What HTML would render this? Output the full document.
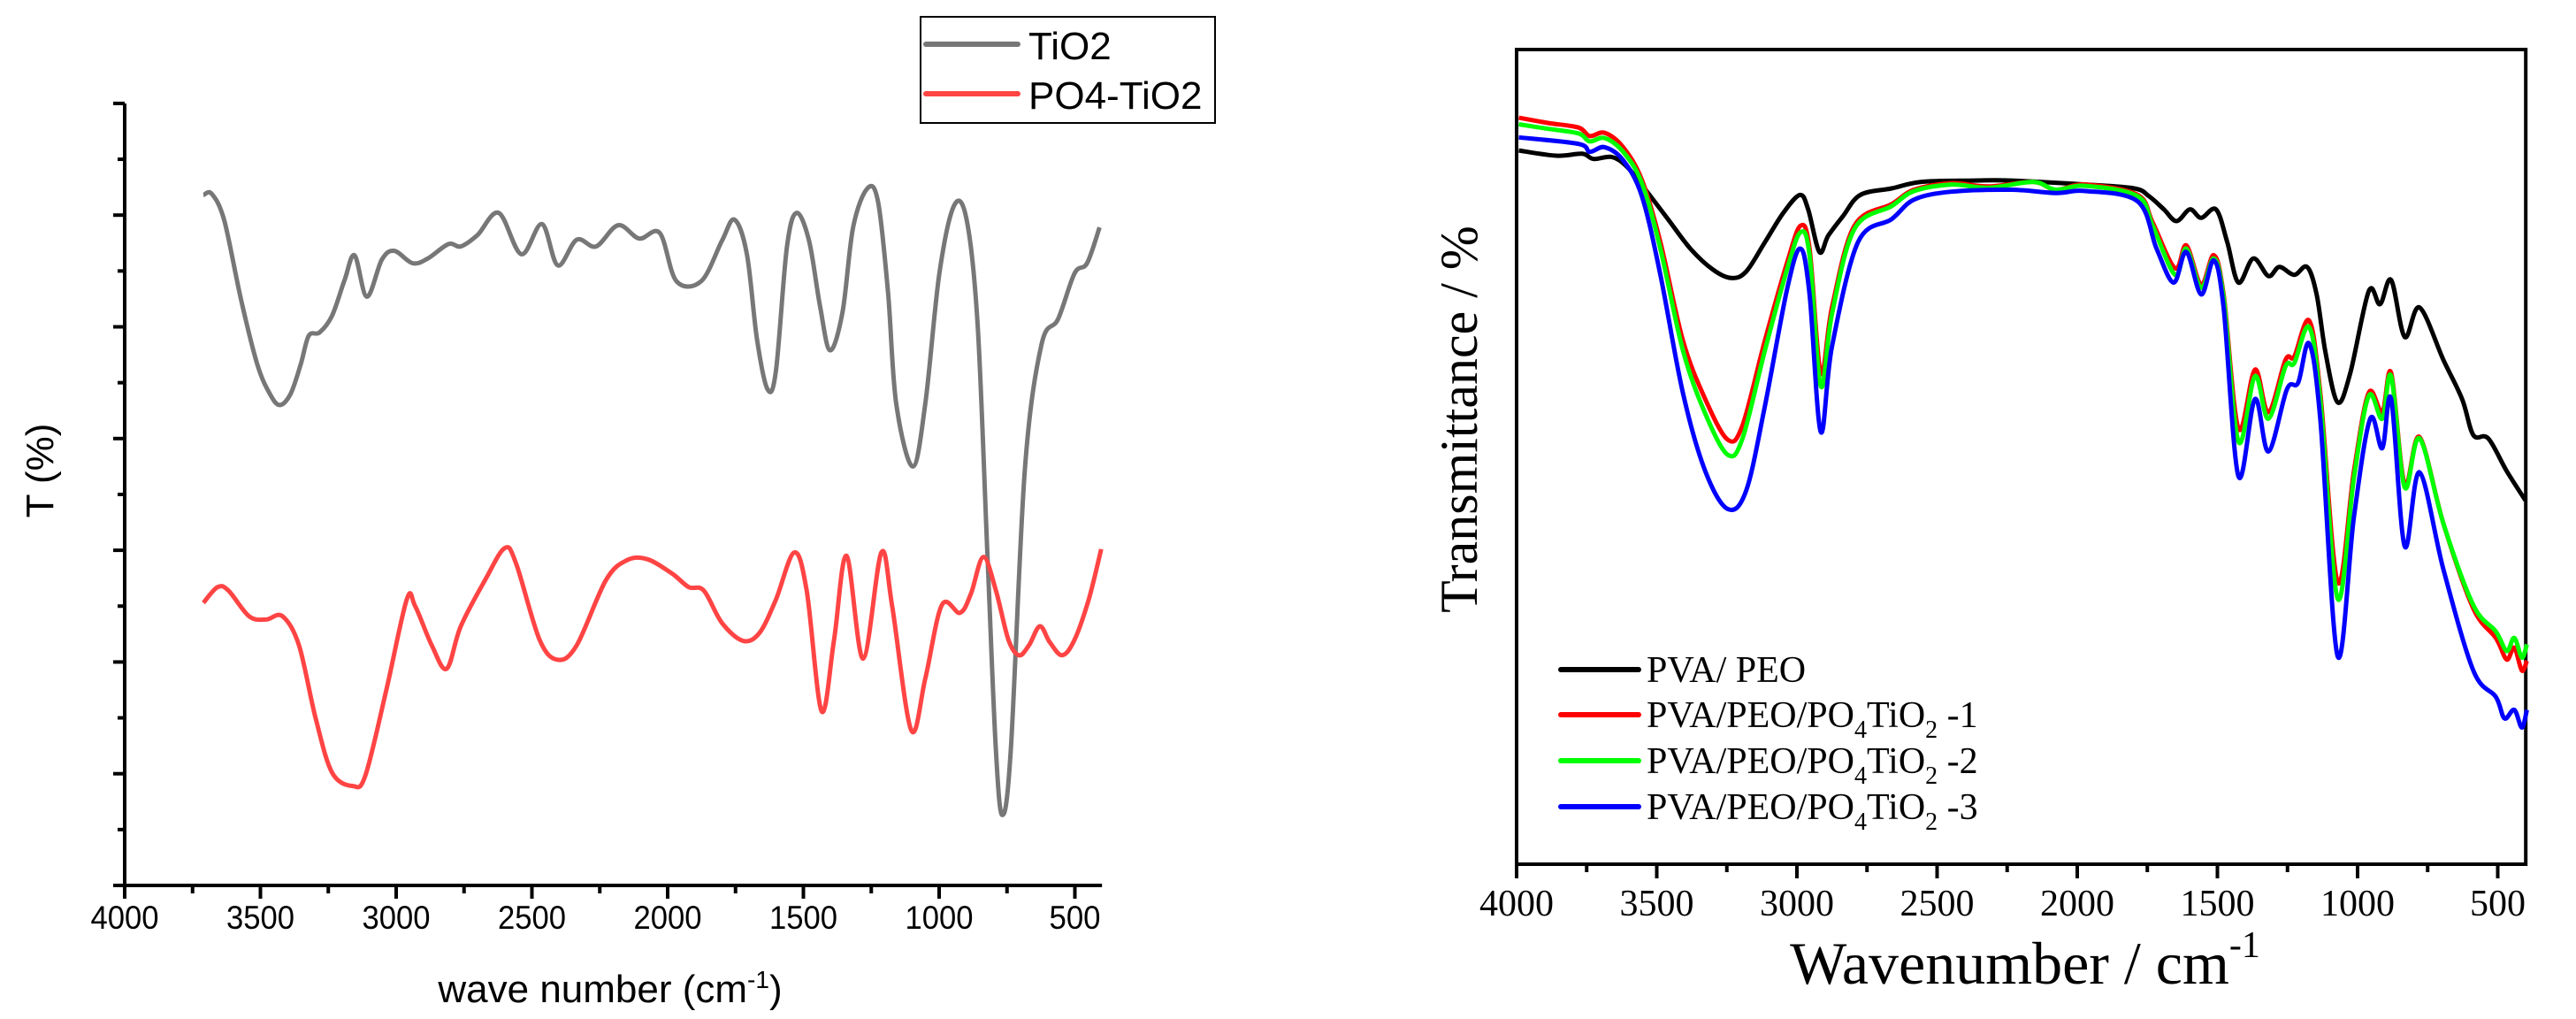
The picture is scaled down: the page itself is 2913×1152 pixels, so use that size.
<!DOCTYPE html>
<html><head><meta charset="utf-8">
<style>
html,body{margin:0;padding:0;background:#fff;}
svg{display:block;}
</style></head>
<body>
<svg id="fig" width="2913" height="1152" viewBox="0 0 2913 1152" xmlns="http://www.w3.org/2000/svg">
<g id="left"></g>
<g id="right"></g>
</svg>
<script>
// ---------- Left chart data ----------
const leftTicks = [4000,3500,3000,2500,2000,1500,1000,500];
const tio2Wn = [3710,3679,3633,3572,3511,3465,3429,3389,3352,3322,3282,3236,3190,3153,3108,3053,3007,2940,2885,2808,2762,2701,2622,2539,2463,2405,2335,2264,2182,2105,2029,1968,1876,1800,1754,1708,1671,1632,1601,1561,1525,1479,1439,1402,1356,1317,1264,1225,1188,1158,1097,1051,999,944,898,858,822,791,767,736,684,623,562,501,455,409];
const tio2T = [6.18,6.19,5.95,5.25,4.66,4.40,4.30,4.40,4.66,4.92,4.95,5.10,5.42,5.64,5.27,5.60,5.68,5.57,5.61,5.74,5.72,5.82,6.02,5.65,5.92,5.55,5.78,5.72,5.91,5.79,5.84,5.41,5.41,5.77,5.96,5.65,4.89,4.44,4.61,5.71,6.02,5.77,5.19,4.79,5.13,5.89,6.24,6.12,5.30,4.31,3.75,4.31,5.48,6.09,5.95,5.01,2.96,1.21,0.63,1.21,3.73,4.84,5.07,5.48,5.57,5.89];
const po4Wn = [3710,3658,3618,3542,3480,3419,3358,3297,3236,3160,3114,3037,2961,2930,2869,2814,2762,2671,2600,2558,2472,2405,2335,2228,2151,2075,1983,1922,1867,1800,1723,1662,1601,1534,1488,1433,1387,1341,1280,1213,1173,1103,1051,990,923,883,837,791,745,706,669,629,593,547,501,449,403];
const po4T = [2.53,2.67,2.64,2.41,2.38,2.41,2.15,1.50,1.01,0.89,0.98,1.74,2.56,2.50,2.15,1.94,2.32,2.74,3.02,2.88,2.20,2.02,2.15,2.73,2.91,2.92,2.79,2.67,2.64,2.35,2.19,2.26,2.56,2.98,2.64,1.56,2.20,2.95,2.03,2.98,2.50,1.39,1.85,2.51,2.44,2.61,2.94,2.64,2.20,2.06,2.15,2.32,2.18,2.06,2.20,2.56,3.01];

// ---------- Right chart data ----------
const rightTicks = [4000,3500,3000,2500,2000,1500,1000,500];
const peoWn = [3992,3859,3766,3726,3660,3606,3540,3460,3380,3300,3234,3181,3114,3048,2989,2960,2920,2888,2835,2774,2662,2556,2369,2236,1970,1797,1744,1691,1646,1598,1558,1505,1465,1425,1372,1318,1279,1226,1180,1146,1114,1071,1026,960,920,880,832,779,694,627,587,534,468,401];
const peoT = [11.0,10.92,10.95,10.87,10.90,10.75,10.40,9.95,9.50,9.18,9.05,9.15,9.60,10.05,10.32,10.10,9.45,9.70,10.00,10.32,10.42,10.52,10.54,10.54,10.48,10.42,10.30,10.10,9.92,10.10,9.97,10.10,9.60,8.98,9.35,9.08,9.22,9.10,9.22,8.80,7.90,7.15,7.60,8.85,8.65,9.02,8.15,8.60,7.80,7.20,6.65,6.60,6.10,5.65];
const s1Wn = [3992,3886,3779,3739,3686,3620,3553,3487,3407,3327,3247,3194,3114,3034,2987,2955,2915,2875,2795,2662,2582,2449,2316,2157,2077,1970,1784,1731,1651,1611,1558,1513,1478,1425,1366,1318,1257,1226,1173,1133,1071,1013,960,912,880,832,779,694,587,507,468,441,414,396];
const s1T = [11.50,11.42,11.35,11.22,11.27,11.05,10.55,9.60,8.10,7.20,6.58,6.80,8.10,9.30,9.85,9.50,7.60,8.60,9.85,10.18,10.40,10.50,10.45,10.52,10.40,10.48,10.32,9.90,9.20,9.55,8.95,9.40,8.80,6.75,7.65,7.00,7.80,7.85,8.40,7.30,4.40,6.10,7.30,7.00,7.60,5.90,6.62,5.30,4.00,3.55,3.22,3.40,3.05,3.20];
const s2Wn = [3992,3886,3779,3739,3686,3620,3553,3487,3407,3327,3247,3194,3114,3034,2987,2955,2915,2875,2795,2662,2582,2449,2316,2157,2077,1970,1784,1731,1651,1611,1558,1513,1478,1425,1366,1318,1257,1226,1173,1133,1071,1013,960,912,880,832,779,694,587,507,468,441,414,396];
const s2T = [11.40,11.33,11.26,11.14,11.19,10.98,10.50,9.50,7.95,6.98,6.35,6.60,7.95,9.20,9.75,9.40,7.40,8.50,9.80,10.15,10.38,10.48,10.43,10.52,10.40,10.46,10.30,9.85,9.10,9.50,8.90,9.35,8.75,6.55,7.55,6.90,7.70,7.75,8.30,7.20,4.15,6.00,7.25,6.90,7.55,5.85,6.60,5.30,4.05,3.65,3.35,3.55,3.25,3.45];
const s3Wn = [3992,3779,3739,3686,3620,3553,3487,3407,3327,3247,3181,3114,3034,2987,2955,2915,2875,2782,2662,2582,2449,2236,2077,1970,1784,1717,1656,1611,1558,1513,1478,1425,1366,1318,1252,1212,1173,1133,1071,1013,955,912,880,832,779,694,587,507,476,441,414,396];
const s3T = [11.20,11.10,10.98,11.05,10.85,10.30,9.10,7.30,6.10,5.52,5.80,7.10,8.90,9.50,8.80,6.70,8.00,9.60,9.95,10.25,10.37,10.40,10.35,10.38,10.22,9.50,8.98,9.45,8.80,9.32,8.60,6.02,7.20,6.40,7.35,7.45,8.05,6.90,3.27,5.40,6.90,6.45,7.20,4.95,6.08,4.60,3.05,2.65,2.32,2.45,2.18,2.45];

const NS='http://www.w3.org/2000/svg';
function mk(parent, tag, attrs){ const e=document.createElementNS(NS,tag); for(const k in attrs) e.setAttribute(k,attrs[k]); parent.appendChild(e); return e; }
function smoothPath(pts){
  let d='M'+pts[0][0].toFixed(1)+','+pts[0][1].toFixed(1);
  for(let i=0;i<pts.length-1;i++){
    const p0=pts[i-1]||pts[i], p1=pts[i], p2=pts[i+1], p3=pts[i+2]||p2;
    const c1=[p1[0]+(p2[0]-p0[0])/6, p1[1]+(p2[1]-p0[1])/6];
    const c2=[p2[0]-(p3[0]-p1[0])/6, p2[1]-(p3[1]-p1[1])/6];
    d+='C'+c1[0].toFixed(1)+','+c1[1].toFixed(1)+' '+c2[0].toFixed(1)+','+c2[1].toFixed(1)+' '+p2[0].toFixed(1)+','+p2[1].toFixed(1);
  }
  return d;
}

// ---------- LEFT ----------
const L = document.getElementById('left');
const lx = wn => 141 + (4000-wn)*153.5/500;
const ly = v => 1001 - v*126.3;
const sansL = '"Liberation Sans", Arial, sans-serif';
let e;
e = mk(L,'line',{x1:141,y1:117,x2:141,y2:1003,stroke:'#000','stroke-width':4});
 
e = mk(L,'line',{x1:130,y1:1001,x2:lx(400),y2:1001,stroke:'#000','stroke-width':4});
 
for(let i=0;i<=14;i++){
  const y = ly(i*0.5);
  const t = mk(L,'line',{x1:141,y1:y,x2:i%2===0?128:133,y2:y,stroke:'#000','stroke-width':4});
   
}
for(let w=4000; w>=500; w-=250){
  const x=lx(w); const major = w%500===0;
  const t = mk(L,'line',{x1:x,y1:1001,x2:x,y2:major?1016:1010,stroke:'#000','stroke-width':4});
   
}
leftTicks.forEach(w=>{
  const attrs = {x:lx(w),y:1050,'font-family':sansL,'font-size':37,'text-anchor':'middle'};
  if(String(w).length===4){ attrs.textLength=77; attrs.lengthAdjust='spacingAndGlyphs'; }
  else { attrs.textLength=58; attrs.lengthAdjust='spacingAndGlyphs'; }
  const t = mk(L,'text',attrs);
  t.textContent=w;
   
});
e = mk(L,'text',{x:690,y:1133,'font-family':sansL,'font-size':44,'text-anchor':'middle'});
e.innerHTML='wave number (cm<tspan dy="-16" font-size="28">-1</tspan><tspan dy="16">)</tspan>';
 
e = mk(L,'text',{x:0,y:0,'font-family':sansL,'font-size':44,'text-anchor':'middle',transform:'translate(60,532) rotate(-90)'});
e.textContent='T (%)';
 
e = mk(L,'path',{d:smoothPath(tio2Wn.map((w,i)=>[lx(w),ly(tio2T[i])])),fill:'none',stroke:'#777','stroke-width':5,'stroke-linejoin':'round'});
 
e = mk(L,'path',{d:smoothPath(po4Wn.map((w,i)=>[lx(w),ly(po4T[i])])),fill:'none',stroke:'#f44','stroke-width':5,'stroke-linejoin':'round'});
 
const lg = mk(L,'g',{});
 
mk(lg,'rect',{x:1041,y:19,width:333,height:120,fill:'#fff',stroke:'#000','stroke-width':2});
e = mk(lg,'line',{x1:1047,y1:50,x2:1151,y2:50,stroke:'#777','stroke-width':6,'stroke-linecap':'round'});
 
e = mk(lg,'text',{x:1163,y:67,'font-family':sansL,'font-size':44}); e.textContent='TiO2';
 
e = mk(lg,'line',{x1:1047,y1:106,x2:1151,y2:106,stroke:'#f44','stroke-width':6,'stroke-linecap':'round'});
 
e = mk(lg,'text',{x:1163,y:123,'font-family':sansL,'font-size':44}); e.textContent='PO4-TiO2';
 

// ---------- RIGHT ----------
const R = document.getElementById('right');
const rx = wn => 1715 + (4000-wn)*158.5/500;
const ry = v => (1330 - 100*v)/1.352;
const serif = '"Liberation Serif", "Times New Roman", serif';
const rTop = 56, rBot = 977;
e = mk(R,'rect',{x:1715,y:rTop,width:rx(400)-1715,height:rBot-rTop,fill:'none',stroke:'#000','stroke-width':4});
 
for(let w=4000; w>=500; w-=250){
  const x=rx(w); const major = w%500===0;
  const t = mk(R,'line',{x1:x,y1:rBot,x2:x,y2:rBot+(major?16:9),stroke:'#000','stroke-width':4});
   
}
rightTicks.forEach(w=>{
  const t = mk(R,'text',{x:rx(w),y:1035,'font-family':serif,'font-size':42,'text-anchor':'middle'});
  t.textContent=w;
   
});
e = mk(R,'text',{x:2290,y:1112,'font-family':serif,'font-size':68,'text-anchor':'middle'});
e.innerHTML='Wavenumber / cm<tspan dy="-30" font-size="42">-1</tspan>';
 
e = mk(R,'text',{x:0,y:0,'font-family':serif,'font-size':60,'text-anchor':'middle',transform:'translate(1670,474) rotate(-90)'});
e.textContent='Transmittance / %';
 
e = mk(R,'path',{d:smoothPath(peoWn.map((w,i)=>[rx(w),ry(peoT[i])])),fill:'none',stroke:'#000','stroke-width':5,'stroke-linejoin':'round'});
 
e = mk(R,'path',{d:smoothPath(s1Wn.map((w,i)=>[rx(w),ry(s1T[i])])),fill:'none',stroke:'#f00','stroke-width':5,'stroke-linejoin':'round'});
 
e = mk(R,'path',{d:smoothPath(s2Wn.map((w,i)=>[rx(w),ry(s2T[i])])),fill:'none',stroke:'#0f0','stroke-width':5,'stroke-linejoin':'round'});
 
e = mk(R,'path',{d:smoothPath(s3Wn.map((w,i)=>[rx(w),ry(s3T[i])])),fill:'none',stroke:'#00f','stroke-width':5,'stroke-linejoin':'round'});
 
const rg = mk(R,'g',{});
 
const legCols=['#000','#f00','#0f0','#00f'];
const legY=[757,808,860,912];
const legNames=['legend-entry-pva-peo','legend-entry-sample-1','legend-entry-sample-2','legend-entry-sample-3'];
for(let i=0;i<4;i++){
  const ln = mk(rg,'line',{x1:1765,y1:legY[i],x2:1853,y2:legY[i],stroke:legCols[i],'stroke-width':6,'stroke-linecap':'round'});
  
  
  const tx = mk(rg,'text',{x:1862,y:legY[i]+14,'font-family':serif,'font-size':42});
  if(i===0) tx.textContent='PVA/ PEO';
  else tx.innerHTML='PVA/PEO/PO<tspan dy="12" font-size="28">4</tspan><tspan dy="-12">TiO</tspan><tspan dy="12" font-size="28">2</tspan><tspan dy="-12"> -'+i+'</tspan>';
  
  
}
</script>
</body></html>
